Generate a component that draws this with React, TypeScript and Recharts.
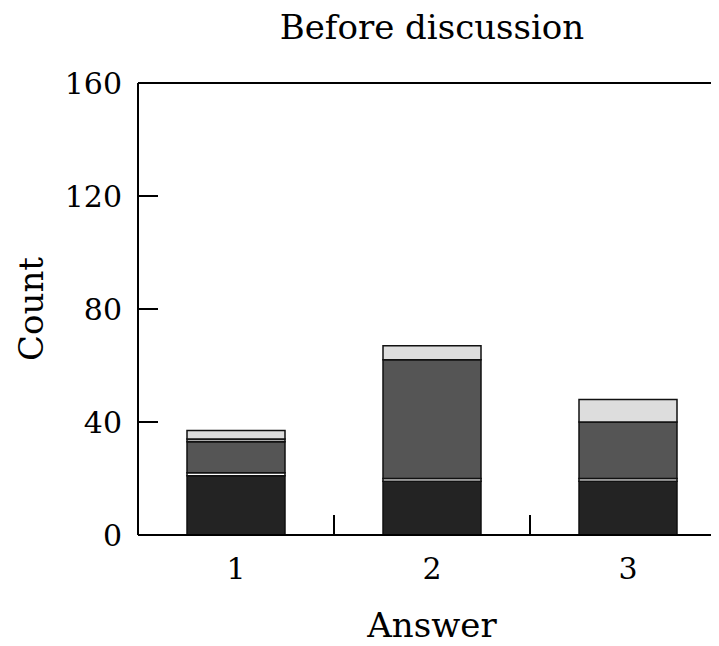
import React from 'react';
import { BarChart, Bar, XAxis, YAxis, ReferenceLine } from 'recharts';

const answers = [1, 2, 3];
const blackSeg = [21, 19, 19];
const whiteSeg = [1, 1, 1];
const darkSeg = [11, 42, 20];
const midSeg = [1, 0, 0];
const lightSeg = [3, 5, 8];
const yTicks = [0, 40, 80, 120, 160];
const xTicks = [1, 1.5, 2, 2.5, 3];

const data = answers.map((a, i) => ({
  answer: a,
  s1: blackSeg[i],
  s2: whiteSeg[i],
  s3: darkSeg[i],
  s4: midSeg[i],
  s5: lightSeg[i],
}));

const FONT = '"DejaVu Serif", serif';
const TICK_FS = 30;
const LABEL_FS = 34;
const INNER_TICK = 20;
const Y_MARGIN = 16;

const YTick = (props: any) => {
  const { x, y, payload } = props;
  const axisX = x + Y_MARGIN;
  return (
    <g>
      {payload.value !== 0 && payload.value !== 160 && (
        <line x1={axisX} x2={axisX + INNER_TICK} y1={y} y2={y} stroke="#000" strokeWidth={2} />
      )}
      <text x={x} y={y} dy="0.36em" textAnchor="end" fontFamily={FONT} fontSize={TICK_FS} fill="#000">
        {payload.value}
      </text>
    </g>
  );
};

const XTick = (props: any) => {
  const { x, y, payload } = props;
  if (Number.isInteger(payload.value)) {
    return (
      <text x={x} y={y + 23} dy="0.71em" textAnchor="middle" fontFamily={FONT} fontSize={TICK_FS} fill="#000">
        {payload.value}
      </text>
    );
  }
  return <line x1={x} x2={x} y1={y} y2={y - INNER_TICK} stroke="#000" strokeWidth={2} />;
};

const TitleLabel = (props: any) => {
  const vb = props.viewBox || {};
  return (
    <text x={vb.x + vb.width / 2} y={vb.y - 44} textAnchor="middle" fontFamily={FONT} fontSize={LABEL_FS} fill="#000">
      Before discussion
    </text>
  );
};

const XLabel = (props: any) => {
  const vb = props.viewBox || {};
  return (
    <text x={vb.x + vb.width / 2} y={vb.y + 102} textAnchor="middle" fontFamily={FONT} fontSize={LABEL_FS} fill="#000">
      Answer
    </text>
  );
};

const YLabel = (props: any) => {
  const vb = props.viewBox || {};
  const cx = 35;
  const cy = vb.y + vb.height / 2;
  return (
    <text x={cx} y={cy} transform={`rotate(-90, ${cx}, ${cy})`} textAnchor="middle" fontFamily={FONT} fontSize={LABEL_FS} fill="#000">
      Count
    </text>
  );
};

const STROKE = '#111';
const SW = 1.5;

export default function App() {
  return (
    <div style={{ width: 711, height: 638, overflow: 'hidden' }}>
      <BarChart width={730} height={638} data={data} margin={{ top: 75, right: 12, bottom: 0, left: 0 }}>
        <XAxis
          dataKey="answer"
          type="number"
          domain={[0.5, 3.5]}
          ticks={xTicks}
          interval={0}
          tickSize={0}
          tickMargin={0}
          tickLine={false}
          tick={<XTick />}
          height={111}
          axisLine={{ stroke: '#000', strokeWidth: 2 }}
          label={<XLabel />}
          allowDataOverflow
        />
        <YAxis
          type="number"
          domain={[0, 160]}
          ticks={yTicks}
          interval={0}
          tickSize={0}
          tickMargin={Y_MARGIN}
          tickLine={false}
          tick={<YTick />}
          width={130}
          axisLine={{ stroke: '#000', strokeWidth: 2 }}
          label={<YLabel />}
        />
        <ReferenceLine y={160} stroke="#000" strokeWidth={2} label={<TitleLabel />} />
        <Bar dataKey="s1" stackId="a" fill="#232323" stroke={STROKE} strokeWidth={SW} barSize={98} isAnimationActive={false} />
        <Bar dataKey="s2" stackId="a" fill="#ffffff" stroke={STROKE} strokeWidth={SW} barSize={98} isAnimationActive={false} />
        <Bar dataKey="s3" stackId="a" fill="#555555" stroke={STROKE} strokeWidth={SW} barSize={98} isAnimationActive={false} />
        <Bar dataKey="s4" stackId="a" fill="#aaaaaa" stroke={STROKE} strokeWidth={SW} barSize={98} isAnimationActive={false} />
        <Bar dataKey="s5" stackId="a" fill="#dddddd" stroke={STROKE} strokeWidth={SW} barSize={98} isAnimationActive={false} />
      </BarChart>
    </div>
  );
}
